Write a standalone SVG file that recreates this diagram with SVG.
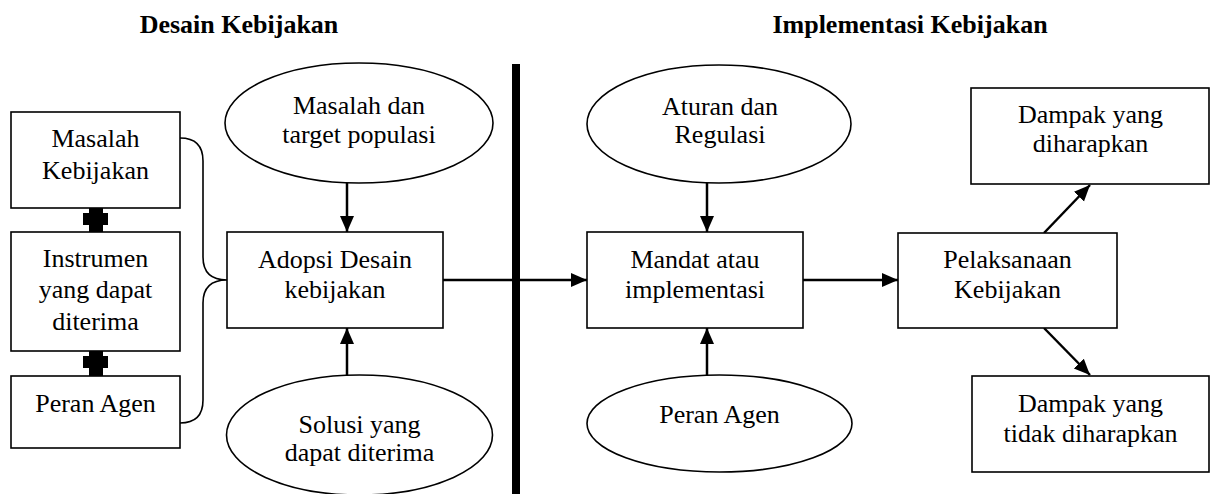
<svg xmlns="http://www.w3.org/2000/svg" width="1211" height="494" viewBox="0 0 1211 494">
<style>
  .box { fill: #fff; stroke: #000; stroke-width: 1.6; }
  .ell { fill: #fff; stroke: #000; stroke-width: 1.6; }
  .t { font-family: "Liberation Serif", "Times New Roman", serif; font-size: 26px; fill: #000; text-anchor: middle; }
  .title { font-family: "Liberation Serif", "Times New Roman", serif; font-size: 26px; font-weight: bold; fill: #000; text-anchor: middle; }
  .arr { fill: none; stroke: #000; stroke-width: 2.5; marker-end: url(#ah); }
  .brace { fill: none; stroke: #000; stroke-width: 1.6; }
</style>
<defs>
  <marker id="ah" markerUnits="userSpaceOnUse" markerWidth="16" markerHeight="16" viewBox="0 0 16 16" refX="16" refY="8" orient="auto">
    <path d="M0,1 L16,8 L0,15 Z" fill="#000"/>
  </marker>
</defs>
<rect width="1211" height="494" fill="#fff"/>

<text class="title" x="239" y="33">Desain Kebijakan</text>
<text class="title" x="910" y="33">Implementasi Kebijakan</text>

<g id="divider">
  <rect x="512" y="64" width="8" height="430" fill="#000"/>
</g>

<g id="connectors">
  <path class="brace" d="M180,138 Q203,138 203,161 L203,257 Q203,280 227,280 Q203,280 203,303 L203,400 Q203,423 180,423"/>
  <path d="M89,208 H103 V213 H108 V225 H103 V232 H89 V225 H83 V213 H89 Z" fill="#000"/>
  <path d="M89,351 H103 V356 H108 V368 H103 V376 H89 V368 H83 V356 H89 Z" fill="#000"/>
  <line class="arr" x1="347" y1="183" x2="347" y2="232"/>
  <line class="arr" x1="347" y1="375" x2="347" y2="328"/>
  <line class="arr" x1="443" y1="280" x2="587" y2="280"/>
  <line class="arr" x1="707" y1="183" x2="707" y2="232"/>
  <line class="arr" x1="707" y1="375" x2="707" y2="328"/>
  <line class="arr" x1="803" y1="280" x2="898" y2="280"/>
  <line class="arr" x1="1044" y1="233" x2="1090" y2="185"/>
  <line class="arr" x1="1044" y1="328" x2="1090" y2="375"/>
</g>

<g id="masalah-kebijakan">
  <rect class="box" x="11" y="112" width="169" height="96"/>
  <text class="t" x="95.5" y="147">Masalah</text>
  <text class="t" x="95.5" y="179">Kebijakan</text>
</g>
<g id="instrumen">
  <rect class="box" x="11" y="232" width="169" height="119"/>
  <text class="t" x="95.5" y="267">Instrumen</text>
  <text class="t" x="95.5" y="298">yang dapat</text>
  <text class="t" x="95.5" y="330">diterima</text>
</g>
<g id="peran-agen-left">
  <rect class="box" x="11" y="376" width="169" height="72"/>
  <text class="t" x="95.5" y="412">Peran Agen</text>
</g>

<g id="masalah-target">
  <ellipse class="ell" cx="359" cy="123" rx="134" ry="60"/>
  <text class="t" x="359" y="114">Masalah dan</text>
  <text class="t" x="359" y="143">target populasi</text>
</g>
<g id="adopsi">
  <rect class="box" x="227" y="232" width="216" height="96"/>
  <text class="t" x="335" y="268">Adopsi Desain</text>
  <text class="t" x="335" y="298">kebijakan</text>
</g>
<g id="solusi">
  <ellipse class="ell" cx="359.5" cy="435" rx="133" ry="60"/>
  <text class="t" x="359.5" y="433">Solusi yang</text>
  <text class="t" x="359.5" y="461">dapat diterima</text>
</g>

<g id="aturan">
  <ellipse class="ell" cx="719" cy="124" rx="132" ry="59"/>
  <text class="t" x="720" y="115">Aturan dan</text>
  <text class="t" x="720" y="143">Regulasi</text>
</g>
<g id="mandat">
  <rect class="box" x="587" y="232" width="216" height="96"/>
  <text class="t" x="695" y="268">Mandat atau</text>
  <text class="t" x="695" y="298">implementasi</text>
</g>
<g id="peran-agen-right">
  <ellipse class="ell" cx="719.5" cy="423.5" rx="132.5" ry="48.5"/>
  <text class="t" x="719.5" y="423">Peran Agen</text>
</g>

<g id="pelaksanaan">
  <rect class="box" x="898" y="233" width="219" height="95"/>
  <text class="t" x="1007.5" y="268">Pelaksanaan</text>
  <text class="t" x="1007.5" y="298">Kebijakan</text>
</g>
<g id="dampak-diharapkan">
  <rect class="box" x="971" y="88" width="238" height="96"/>
  <text class="t" x="1090.5" y="123">Dampak yang</text>
  <text class="t" x="1090.5" y="152">diharapkan</text>
</g>
<g id="dampak-tidak">
  <rect class="box" x="972" y="376" width="237" height="96"/>
  <text class="t" x="1090.5" y="412">Dampak yang</text>
  <text class="t" x="1090.5" y="442">tidak diharapkan</text>
</g>
</svg>
